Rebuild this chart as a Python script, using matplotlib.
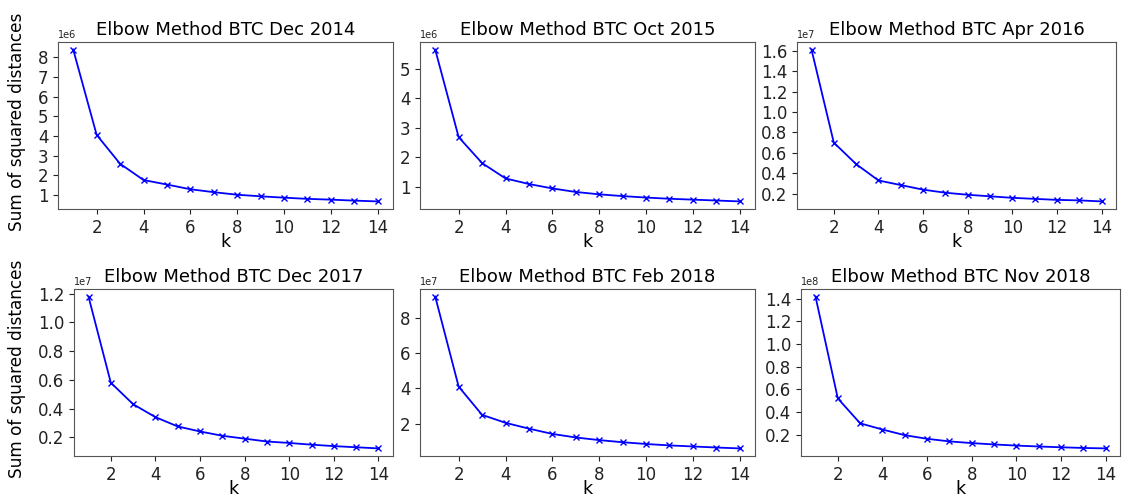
import numpy as np
import matplotlib
matplotlib.use("Agg")
import matplotlib.pyplot as plt
from matplotlib.ticker import MultipleLocator

k = np.arange(1, 15)

titles = ["Elbow Method BTC Dec 2014", "Elbow Method BTC Oct 2015", "Elbow Method BTC Apr 2016",
          "Elbow Method BTC Dec 2017", "Elbow Method BTC Feb 2018", "Elbow Method BTC Nov 2018"]

sse_dec2014 = [8.4e6, 4.05e6, 2.58e6, 1.75e6, 1.52e6, 1.28e6, 1.13e6, 1.0e6, 0.92e6, 0.85e6, 0.79e6, 0.75e6, 0.70e6, 0.66e6]
sse_oct2015 = [5.65e6, 2.68e6, 1.8e6, 1.28e6, 1.09e6, 0.94e6, 0.82e6, 0.74e6, 0.68e6, 0.63e6, 0.59e6, 0.56e6, 0.53e6, 0.50e6]
sse_apr2016 = [1.61e7, 0.70e7, 0.49e7, 0.33e7, 0.285e7, 0.24e7, 0.21e7, 0.19e7, 0.175e7, 0.16e7, 0.15e7, 0.14e7, 0.135e7, 0.125e7]
sse_dec2017 = [1.18e7, 0.58e7, 0.43e7, 0.34e7, 0.275e7, 0.24e7, 0.21e7, 0.19e7, 0.17e7, 0.16e7, 0.148e7, 0.138e7, 0.13e7, 0.122e7]
sse_feb2018 = [9.2e7, 4.1e7, 2.5e7, 2.05e7, 1.72e7, 1.42e7, 1.22e7, 1.07e7, 0.95e7, 0.85e7, 0.77e7, 0.71e7, 0.65e7, 0.60e7]
sse_nov2018 = [1.42e8, 0.52e8, 0.30e8, 0.245e8, 0.195e8, 0.163e8, 0.14e8, 0.125e8, 0.113e8, 0.103e8, 0.095e8, 0.088e8, 0.082e8, 0.078e8]

series = [sse_dec2014, sse_oct2015, sse_apr2016, sse_dec2017, sse_feb2018, sse_nov2018]
ytick_steps = [1e6, 1e6, 0.2e7, 0.2e7, 2e7, 0.2e8]

W, H = 1128, 496
# axes boxes in pixels: left, top, right, bottom
boxes = [(58, 42, 393, 209), (420, 42, 755, 209), (797, 42, 1116, 209),
         (74, 289, 393, 456), (420, 289, 755, 456), (801, 289, 1120, 456)]

fig = plt.figure(figsize=(W / 100, H / 100), dpi=100)
for i, (vals, title) in enumerate(zip(series, titles)):
    l, t, r, b = boxes[i]
    ax = fig.add_axes([l / W, 1 - b / H, (r - l) / W, (b - t) / H])
    ax.plot(k, vals, color='blue', marker='x', markersize=5, linewidth=1.3)
    ax.set_title(title, fontsize=13, pad=5)
    ax.set_xlabel('k', fontsize=12.5, labelpad=-3)
    ax.set_xticks([2, 4, 6, 8, 10, 12, 14])
    ax.yaxis.set_major_locator(MultipleLocator(ytick_steps[i]))
    ax.tick_params(labelsize=12, colors='#222222')
    for s in ax.spines.values():
        s.set_color('#555555')
    ax.yaxis.get_offset_text().set_fontsize(7)
    if i % 3 == 0:
        ax.set_ylabel('Sum of squared distances', fontsize=12.2)
        ax.yaxis.set_label_coords((26 - l) / (r - l), 0.52)

fig.savefig('out.png', dpi=100)
